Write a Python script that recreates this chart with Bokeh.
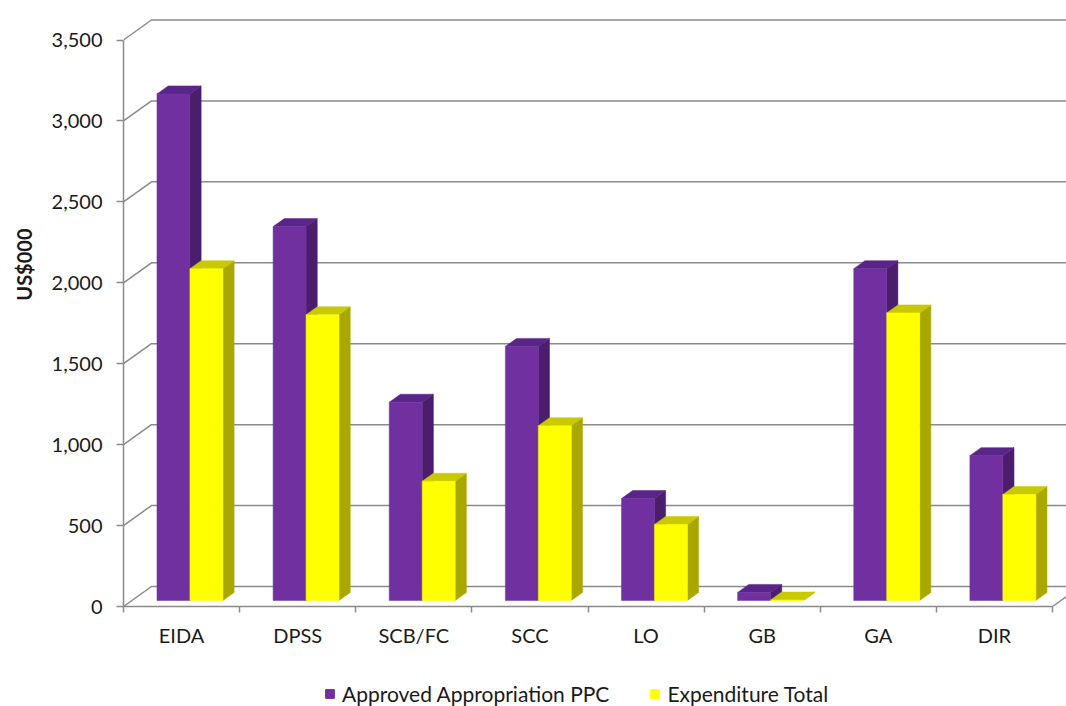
from bokeh.plotting import figure
from bokeh.layouts import column
from bokeh.models import (Range1d, FixedTicker, NumeralTickFormatter, Legend, LegendItem, Title)
from bokeh.embed import file_html
from bokeh.resources import INLINE

# ---------------- data ----------------
categories = ["EIDA", "DPSS", "SCB/FC", "SCC", "LO", "GB", "GA", "DIR"]
approved = [3130, 2310, 1225, 1570, 630, 50, 2050, 895]
expenditure = [2050, 1765, 737, 1080, 470, 3, 1777, 655]
series_names = ["Approved Appropriation PPC", "Expenditure Total"]
y_ticks = [0, 500, 1000, 1500, 2000, 2500, 3000, 3500]

# ---------------- layout / styling ----------------
W = 1066
H_CHART, H_LEG = 680, 26
LB, TB, BB, RB = 122, 2, 74, 0
FW, FH = W - LB - RB, H_CHART - TB - BB
AXIS_PX = 930.0                 # pixel length of the 8 categories on the front plane
PX_PER_X = AXIS_PX / len(categories)
PX_PER_Y = 566.5 / 3500.0
x_end = FW / PX_PER_X
y_end = FH / PX_PER_Y

WALL_DX, WALL_DY = 28.0, 20.0   # depth of the 3D box in px
DX = WALL_DX / PX_PER_X
DY = WALL_DY / PX_PER_Y
BAR_D0 = 0.3                    # bar front depth fraction
BAR_DEPTH = 0.4                 # bar depth fraction
BAR_W = 33.0 / PX_PER_X

FONT = "Lato"
TXT = "#1a1a1a"
GRID = "#8a8a8a"

colors = {
    0: dict(front="#7030A0", top="#5A2588", side="#4A1E6C"),
    1: dict(front="#FFFF00", top="#C9C900", side="#A8A800"),
}

p = figure(width=W, height=H_CHART, output_backend="svg", toolbar_location=None,
           x_range=Range1d(0, x_end), y_range=Range1d(0, y_end),
           min_border_left=LB, min_border_top=TB, min_border_bottom=BB,
           min_border_right=RB)
p.outline_line_color = None
p.xgrid.visible = False
p.ygrid.visible = False
p.background_fill_color = "white"
p.border_fill_color = "white"

# back wall gridlines with diagonals from the front axis
n = len(categories)
gx, gy = [], []
for v in y_ticks:
    gx.append([0, DX, x_end + DX])
    gy.append([v, v + DY, v + DY])
gx.append([n, n + DX])
gy.append([0, DY])
p.multi_line(gx, gy, line_color=GRID, line_width=1.5)

# 3D bars
front_faces = {}
for s, vals in enumerate([approved, expenditure]):
    faces = {"side": ([], []), "top": ([], []), "front": ([], [])}
    for i, v in enumerate(vals):
        center = i + 0.5
        x0 = center - BAR_W + s * BAR_W + BAR_D0 * DX
        x1 = x0 + BAR_W
        y0 = BAR_D0 * DY
        yt = v + BAR_D0 * DY
        bdx, bdy = BAR_DEPTH * DX, BAR_DEPTH * DY
        faces["front"][0].append([x0, x1, x1, x0])
        faces["front"][1].append([y0, y0, yt, yt])
        faces["side"][0].append([x1, x1 + bdx, x1 + bdx, x1])
        faces["side"][1].append([y0, y0 + bdy, yt + bdy, yt])
        faces["top"][0].append([x0, x1, x1 + bdx, x0 + bdx])
        faces["top"][1].append([yt, yt, yt + bdy, yt + bdy])
    for face in ["side", "top", "front"]:
        xs, ys = faces[face]
        c = colors[s][face]
        p.patches(xs, ys, fill_color=c, line_color=c, line_width=0.5)
    front_faces[s] = faces["front"]

# y axis
ya = p.yaxis[0]
ya.bounds = (0, 3500)
ya.ticker = FixedTicker(ticks=y_ticks)
ya.formatter = NumeralTickFormatter(format="0,0")
ya.axis_line_color = GRID
ya.axis_line_width = 1.5
ya.major_tick_line_color = GRID
ya.major_tick_line_width = 1.5
ya.major_tick_in = 0
ya.major_tick_out = 7
ya.minor_tick_line_color = None
ya.major_label_standoff = 14
ya.major_label_text_font = FONT
ya.major_label_text_font_size = "20px"
ya.major_label_text_color = TXT

ytitle = Title(text="US$000", align="right", offset=226, standoff=22,
               vertical_align="top",
               text_font=FONT, text_font_style="bold", text_font_size="20px",
               text_color=TXT)
p.add_layout(ytitle, "left")

# x axis
xa = p.xaxis[0]
xa.bounds = (0, n)
xa.ticker = FixedTicker(ticks=[i + 0.5 for i in range(n)], minor_ticks=list(range(n + 1)))
xa.major_label_overrides = {i + 0.5: c for i, c in enumerate(categories)}
xa.axis_line_color = GRID
xa.axis_line_width = 1.5
xa.major_tick_line_color = None
xa.major_tick_in = 0
xa.major_tick_out = 0
xa.minor_tick_line_color = GRID
xa.minor_tick_line_width = 1.5
xa.minor_tick_in = 0
xa.minor_tick_out = 6
xa.major_label_standoff = 10
xa.major_label_text_font = FONT
xa.major_label_text_font_size = "20px"
xa.major_label_text_color = TXT

# legend strip below the chart (its frame is aligned with the chart frame);
# the proxy renderers reuse the bar faces, which lie outside this strip's range
lf = figure(width=W, height=H_LEG, output_backend="svg", toolbar_location=None,
            x_range=Range1d(0, x_end), y_range=Range1d(0, 1),
            x_axis_type=None, y_axis_type=None,
            min_border_left=LB, min_border_right=0, min_border_top=0, min_border_bottom=0)
lf.outline_line_color = None
lf.xgrid.visible = False
lf.ygrid.visible = False
items = []
for s, name in enumerate(series_names):
    xs, ys = front_faces[s]
    r = lf.patches(xs, ys, fill_color=colors[s]["front"], line_color=colors[s]["front"])
    items.append(LegendItem(label=name, renderers=[r]))
legend = Legend(items=items, location=(323 - LB, 0), orientation="horizontal")
legend.padding = 0
legend.margin = 0
legend.spacing = 40
legend.glyph_width = 11
legend.glyph_height = 11
legend.label_standoff = 7
legend.label_height = 22
legend.label_text_font = FONT
legend.label_text_font_size = "21px"
legend.label_text_color = TXT
legend.border_line_color = None
legend.background_fill_alpha = 0
lf.add_layout(legend)

layout = column(p, lf, spacing=0)
open("out.html", "w").write(file_html(layout, INLINE))
